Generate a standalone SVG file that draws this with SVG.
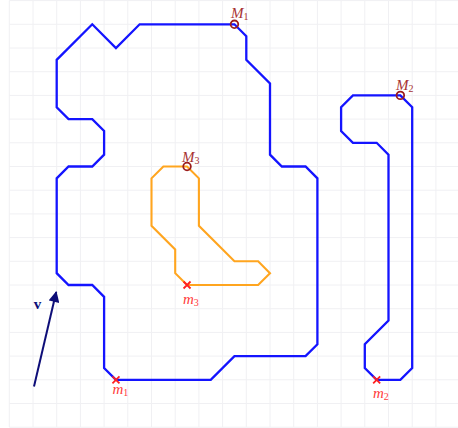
<svg xmlns="http://www.w3.org/2000/svg" width="458" height="428" viewBox="0 0 458 428">
<style>
.grid line{stroke:#f0f0f3;stroke-width:1}
.blue{fill:none;stroke:#1414ff;stroke-width:2.3;stroke-linejoin:miter}
.orange{fill:none;stroke:#ffa51f;stroke-width:2.1}
.maxm{fill:none;stroke:#9b1c1c;stroke-width:1.8}
.minm{stroke:#ff2020;stroke-width:1.8}
.lM{font-family:"Liberation Serif",serif;font-style:italic;font-size:15px;fill:#a83232}
.lm{font-family:"Liberation Serif",serif;font-style:italic;font-size:15px;fill:#ff3a3a}
.sub{font-size:10px;font-style:normal}
</style>
<defs>
<marker id="ah" viewBox="0 0 10 10" refX="9" refY="5" markerWidth="6.5" markerHeight="5.5" orient="auto" markerUnits="strokeWidth">
<path d="M0,0 L10,5 L0,10 z" fill="#0d0d78"/>
</marker>
</defs>
<rect width="458" height="428" fill="#ffffff"/>
<g class="grid">
<line x1="9.3" y1="0.6" x2="9.3" y2="427.2"/><line x1="33" y1="0.6" x2="33" y2="427.2"/><line x1="56.7" y1="0.6" x2="56.7" y2="427.2"/><line x1="80.4" y1="0.6" x2="80.4" y2="427.2"/><line x1="104.1" y1="0.6" x2="104.1" y2="427.2"/><line x1="127.8" y1="0.6" x2="127.8" y2="427.2"/><line x1="151.5" y1="0.6" x2="151.5" y2="427.2"/><line x1="175.2" y1="0.6" x2="175.2" y2="427.2"/><line x1="198.9" y1="0.6" x2="198.9" y2="427.2"/><line x1="222.6" y1="0.6" x2="222.6" y2="427.2"/><line x1="246.3" y1="0.6" x2="246.3" y2="427.2"/><line x1="270" y1="0.6" x2="270" y2="427.2"/><line x1="293.7" y1="0.6" x2="293.7" y2="427.2"/><line x1="317.4" y1="0.6" x2="317.4" y2="427.2"/><line x1="341.1" y1="0.6" x2="341.1" y2="427.2"/><line x1="364.8" y1="0.6" x2="364.8" y2="427.2"/><line x1="388.5" y1="0.6" x2="388.5" y2="427.2"/><line x1="412.2" y1="0.6" x2="412.2" y2="427.2"/><line x1="435.9" y1="0.6" x2="435.9" y2="427.2"/>
<line x1="9.3" y1="0.6" x2="458" y2="0.6"/><line x1="9.3" y1="24.3" x2="458" y2="24.3"/><line x1="9.3" y1="48" x2="458" y2="48"/><line x1="9.3" y1="71.7" x2="458" y2="71.7"/><line x1="9.3" y1="95.4" x2="458" y2="95.4"/><line x1="9.3" y1="119.1" x2="458" y2="119.1"/><line x1="9.3" y1="142.8" x2="458" y2="142.8"/><line x1="9.3" y1="166.5" x2="458" y2="166.5"/><line x1="9.3" y1="190.2" x2="458" y2="190.2"/><line x1="9.3" y1="213.9" x2="458" y2="213.9"/><line x1="9.3" y1="237.6" x2="458" y2="237.6"/><line x1="9.3" y1="261.3" x2="458" y2="261.3"/><line x1="9.3" y1="285" x2="458" y2="285"/><line x1="9.3" y1="308.7" x2="458" y2="308.7"/><line x1="9.3" y1="332.4" x2="458" y2="332.4"/><line x1="9.3" y1="356.1" x2="458" y2="356.1"/><line x1="9.3" y1="379.8" x2="458" y2="379.8"/><line x1="9.3" y1="403.5" x2="458" y2="403.5"/><line x1="9.3" y1="427.2" x2="458" y2="427.2"/>
</g>
<g id="region1">
<polygon class="blue" points="234.45,24.3 139.65,24.3 115.95,48 92.25,24.3 56.7,59.85 56.7,107.25 68.55,119.1 92.25,119.1 104.1,130.95 104.1,154.65 92.25,166.5 68.55,166.5 56.7,178.35 56.7,273.15 68.55,285 92.25,285 104.1,296.85 104.1,367.95 115.95,379.8 210.75,379.8 234.45,356.1 305.55,356.1 317.4,344.25 317.4,178.35 305.55,166.5 281.85,166.5 270,154.65 270,83.55 246.3,59.85 246.3,36.15"/>
</g>
<g id="region2">
<polygon class="blue" points="400.35,95.4 352.95,95.4 341.1,107.25 341.1,130.95 352.95,142.8 376.65,142.8 388.5,154.65 388.5,320.55 364.8,344.25 364.8,367.95 376.65,379.8 400.35,379.8 412.2,367.95 412.2,107.25"/>
</g>
<g id="region3">
<polygon class="orange" points="187.05,166.5 163.35,166.5 151.5,178.35 151.5,225.75 175.2,249.45 175.2,273.15 187.05,285 258.15,285 270,273.15 258.15,261.3 234.45,261.3 198.9,225.75 198.9,178.35"/>
</g>
<g id="M1"><circle class="maxm" cx="234.45" cy="24.3" r="3.8"/><text class="lM" x="231" y="18">M<tspan class="sub" dy="2">1</tspan></text></g>
<g id="M2"><circle class="maxm" cx="400.35" cy="95.4" r="3.8"/><text class="lM" x="396" y="89.5">M<tspan class="sub" dy="2">2</tspan></text></g>
<g id="M3"><circle class="maxm" cx="187.05" cy="166.5" r="3.8"/><text class="lM" x="182" y="161.5">M<tspan class="sub" dy="2">3</tspan></text></g>
<g id="m1"><path class="minm" d="M112.45,376.3 L119.45,383.3 M112.45,383.3 L119.45,376.3"/><text class="lm" x="112.5" y="393.5">m<tspan class="sub" dy="2">1</tspan></text></g>
<g id="m2"><path class="minm" d="M373.15,376.3 L380.15,383.3 M373.15,383.3 L380.15,376.3"/><text class="lm" x="373" y="398">m<tspan class="sub" dy="2">2</tspan></text></g>
<g id="m3"><path class="minm" d="M183.55,281.5 L190.55,288.5 M183.55,288.5 L190.55,281.5"/><text class="lm" x="183" y="303.5">m<tspan class="sub" dy="2">3</tspan></text></g>
<g id="connectors">
<line x1="34" y1="386.5" x2="56.2" y2="292" stroke="#0d0d78" stroke-width="2" marker-end="url(#ah)"/>
</g>
<g id="v"><text x="37.5" y="309" font-family="Liberation Serif,serif" font-weight="bold" font-size="15" fill="#0d0d78" text-anchor="middle">v</text></g>
</svg>
